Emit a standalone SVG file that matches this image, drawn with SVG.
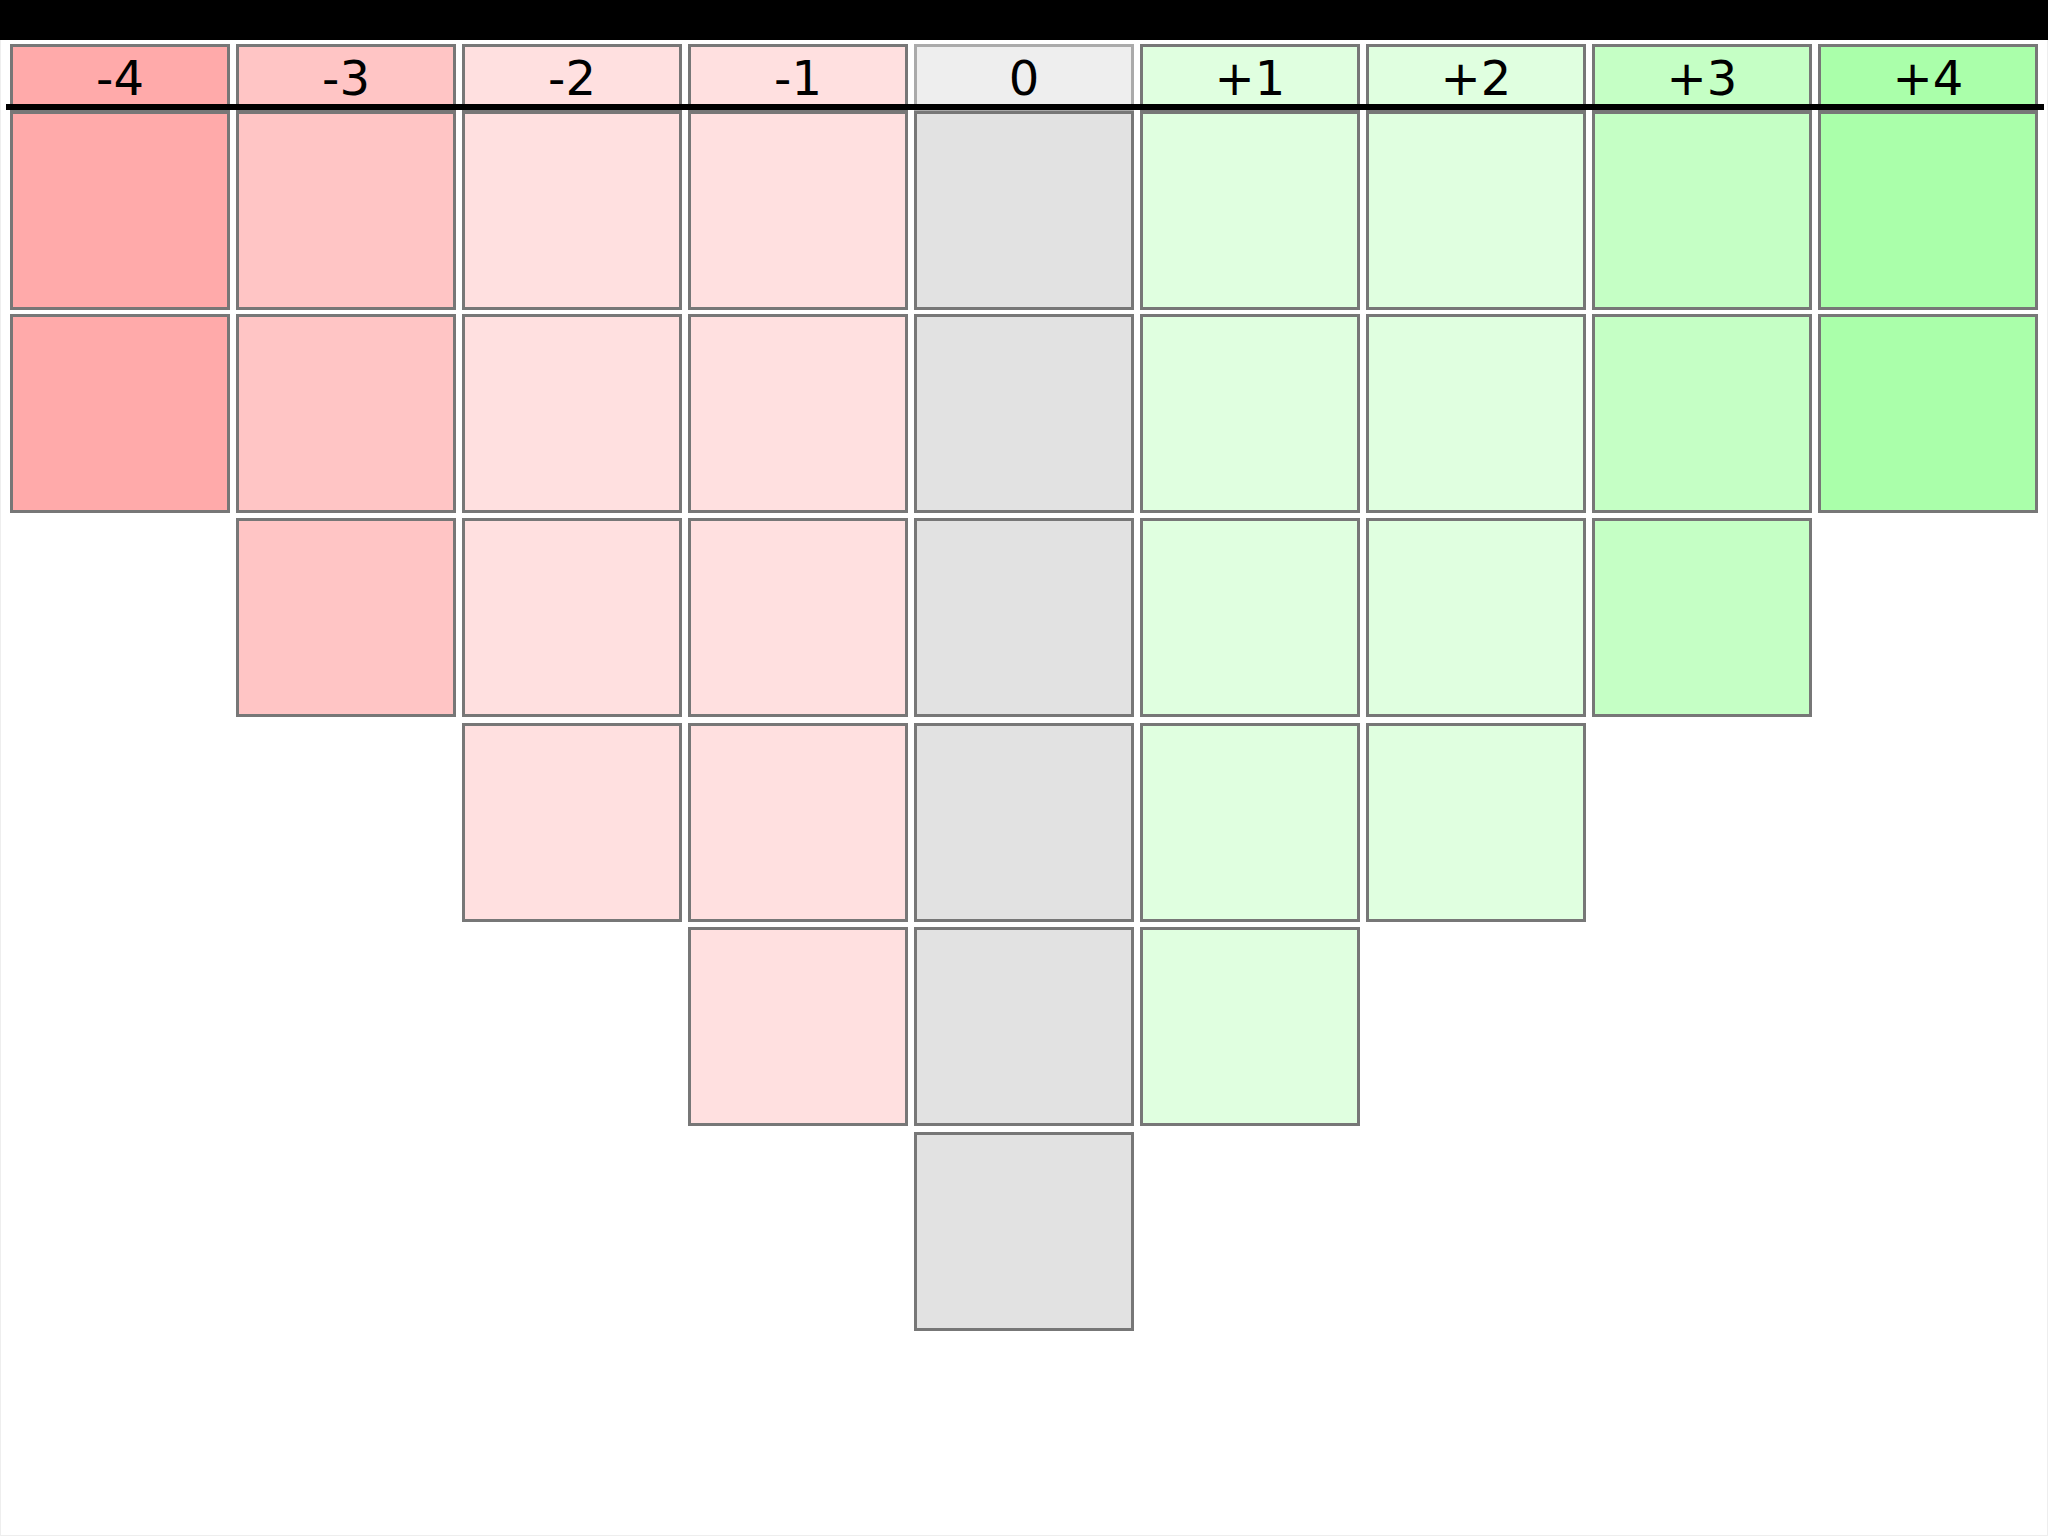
<svg xmlns="http://www.w3.org/2000/svg" width="2048" height="1536" viewBox="0 0 2048 1536">
<style>
.c{stroke:#777;stroke-width:3}
.h0{stroke:#aaa;stroke-width:3}
.t{font-family:"DejaVu Sans",Verdana,sans-serif;font-size:48px;text-anchor:middle;fill:#000}
.m4{fill:#ffaaaa}.m3{fill:#ffc5c5}.m2{fill:#ffe0e0}.m1{fill:#ffe0e0}
.z{fill:#e2e2e2}.zh{fill:#eeeeee}
.p1{fill:#e0ffe0}.p2{fill:#e0ffe0}.p3{fill:#c5ffc5}.p4{fill:#aaffaa}
</style>
<rect x="0.5" y="0.5" width="2047" height="1535" fill="#fff" stroke="#eee"/>
<rect x="0" y="0" width="2048" height="40" fill="#000"/>
<g id="col-m4">
<rect class="c m4" x="11.5" y="45.5" width="217" height="64"/>
<text class="t" x="120" y="95">-4</text>
<rect class="c m4" x="11.5" y="112.5" width="217" height="196"/>
<rect class="c m4" x="11.5" y="315.5" width="217" height="196"/>
</g>
<g id="col-m3">
<rect class="c m3" x="237.5" y="45.5" width="217" height="64"/>
<text class="t" x="346" y="95">-3</text>
<rect class="c m3" x="237.5" y="112.5" width="217" height="196"/>
<rect class="c m3" x="237.5" y="315.5" width="217" height="196"/>
<rect class="c m3" x="237.5" y="519.5" width="217" height="196"/>
</g>
<g id="col-m2">
<rect class="c m2" x="463.5" y="45.5" width="217" height="64"/>
<text class="t" x="572" y="95">-2</text>
<rect class="c m2" x="463.5" y="112.5" width="217" height="196"/>
<rect class="c m2" x="463.5" y="315.5" width="217" height="196"/>
<rect class="c m2" x="463.5" y="519.5" width="217" height="196"/>
<rect class="c m2" x="463.5" y="724.5" width="217" height="196"/>
</g>
<g id="col-m1">
<rect class="c m1" x="689.5" y="45.5" width="217" height="64"/>
<text class="t" x="798" y="95">-1</text>
<rect class="c m1" x="689.5" y="112.5" width="217" height="196"/>
<rect class="c m1" x="689.5" y="315.5" width="217" height="196"/>
<rect class="c m1" x="689.5" y="519.5" width="217" height="196"/>
<rect class="c m1" x="689.5" y="724.5" width="217" height="196"/>
<rect class="c m1" x="689.5" y="928.5" width="217" height="196"/>
</g>
<g id="col-0">
<rect class="h0 zh" x="915.5" y="45.5" width="217" height="64"/>
<text class="t" x="1024" y="95">0</text>
<rect class="c z" x="915.5" y="112.5" width="217" height="196"/>
<rect class="c z" x="915.5" y="315.5" width="217" height="196"/>
<rect class="c z" x="915.5" y="519.5" width="217" height="196"/>
<rect class="c z" x="915.5" y="724.5" width="217" height="196"/>
<rect class="c z" x="915.5" y="928.5" width="217" height="196"/>
<rect class="c z" x="915.5" y="1133.5" width="217" height="196"/>
</g>
<g id="col-p1">
<rect class="c p1" x="1141.5" y="45.5" width="217" height="64"/>
<text class="t" x="1250" y="95">+1</text>
<rect class="c p1" x="1141.5" y="112.5" width="217" height="196"/>
<rect class="c p1" x="1141.5" y="315.5" width="217" height="196"/>
<rect class="c p1" x="1141.5" y="519.5" width="217" height="196"/>
<rect class="c p1" x="1141.5" y="724.5" width="217" height="196"/>
<rect class="c p1" x="1141.5" y="928.5" width="217" height="196"/>
</g>
<g id="col-p2">
<rect class="c p2" x="1367.5" y="45.5" width="217" height="64"/>
<text class="t" x="1476" y="95">+2</text>
<rect class="c p2" x="1367.5" y="112.5" width="217" height="196"/>
<rect class="c p2" x="1367.5" y="315.5" width="217" height="196"/>
<rect class="c p2" x="1367.5" y="519.5" width="217" height="196"/>
<rect class="c p2" x="1367.5" y="724.5" width="217" height="196"/>
</g>
<g id="col-p3">
<rect class="c p3" x="1593.5" y="45.5" width="217" height="64"/>
<text class="t" x="1702" y="95">+3</text>
<rect class="c p3" x="1593.5" y="112.5" width="217" height="196"/>
<rect class="c p3" x="1593.5" y="315.5" width="217" height="196"/>
<rect class="c p3" x="1593.5" y="519.5" width="217" height="196"/>
</g>
<g id="col-p4">
<rect class="c p4" x="1819.5" y="45.5" width="217" height="64"/>
<text class="t" x="1928" y="95">+4</text>
<rect class="c p4" x="1819.5" y="112.5" width="217" height="196"/>
<rect class="c p4" x="1819.5" y="315.5" width="217" height="196"/>
</g>
<g id="connectors">
<line x1="6" y1="107" x2="2044" y2="107" stroke="#000" stroke-width="6"/>
</g>
</svg>
